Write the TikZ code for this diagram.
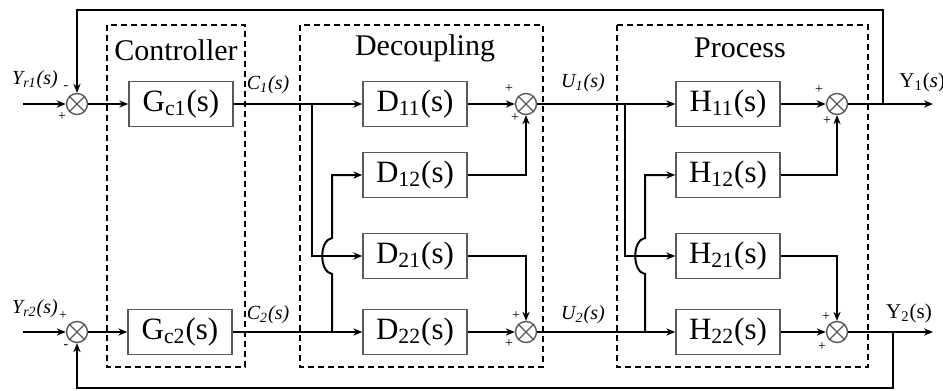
\documentclass[tikz,border=0pt]{standalone}
\usepackage{fontspec}
\setmainfont{Liberation Serif}
\usetikzlibrary{arrows.meta}

\tikzset{
    block/.style={draw=black!65, line width=0.7pt, minimum width=52pt,
        minimum height=22.5pt, inner sep=0pt, font=\fontsize{15.5}{16}\selectfont},
    sumnode/.style={draw=black!65, line width=0.7pt, circle, minimum size=10.5pt, inner sep=0pt},
    sig/.style={line width=1pt, -{Stealth[length=4.5pt,width=3.6pt]}},
    grp/.style={line width=1pt, dash pattern=on 3pt off 2pt},
    title/.style={font=\fontsize{15}{16}\selectfont, inner sep=0pt},
    lbl/.style={font=\fontsize{10}{11}\selectfont\itshape, inner sep=0pt},
    sgn/.style={font=\fontsize{7}{7}\selectfont, inner sep=0pt}
}

\begin{document}
\begin{tikzpicture}[x=0.5pt, y=-0.5pt]
    \useasboundingbox (0,0) rectangle (943,391);

    % dashed groups
    \draw[grp] (107,25) rectangle (245,367);
    \draw[grp] (300,25) rectangle (543,367);
    \draw[grp] (617,25) rectangle (868,367);
    \node[title] (tctrl) at (176,50) {Controller};
    \node[title] (tdec) at (425,48) {Decoupling};
    \node[title] (tproc) at (740,48) {Process};

    % blocks
    \node[block] (gc1) at (181,104) {G\textsubscript{c1}(s)};
    \node[block] (gc2) at (180,332) {G\textsubscript{c2}(s)};
    \foreach \i/\j/\y in {1/1/104, 1/2/175, 2/1/256, 2/2/332} {
        \node[block] (d\i\j) at (415,\y) {D\textsubscript{\i\j}(s)};
        \node[block] (h\i\j) at (728,\y) {H\textsubscript{\i\j}(s)};
    }

    % summing points
    \node[sumnode] (sr1) at (77,104) {};
    \node[sumnode] (sr2) at (77,332) {};
    \node[sumnode] (sd1) at (526,104) {};
    \node[sumnode] (sd2) at (526,332) {};
    \node[sumnode] (sh1) at (837,104) {};
    \node[sumnode] (sh2) at (837,332) {};
    \foreach \s in {sr1,sr2,sd1,sd2,sh1,sh2}
        \draw[line width=0.6pt, black!65] (\s.45) -- (\s.225) (\s.135) -- (\s.315);

    % ends and branch points
    \coordinate (in1) at (23,104);
    \coordinate (in2) at (23,332);
    \coordinate (out1) at (933,104);
    \coordinate (out2) at (933,332);
    \coordinate (bc1) at (312,104);
    \coordinate (bc2) at (332,332);
    \coordinate (bu1) at (625,104);
    \coordinate (bu2) at (645,332);
    \coordinate (fb1) at (883,104);
    \coordinate (fb2) at (893,332);
    \coordinate (top) at (0,10);
    \coordinate (bot) at (0,388);

    % signals
    \draw[sig] (in1) -- (sr1);
    \draw[sig] (in2) -- (sr2);
    \draw[sig] (sr1) -- (gc1);
    \draw[sig] (sr2) -- (gc2);
    \draw[sig] (gc1) -- (d11);
    \draw[sig] (gc2) -- (d22);
    \draw[sig] (bc1) |- (d21);
    \draw[sig] (bc2) -- (332,274) .. controls (319,272) and (319,240) .. (332,238) |- (d12);
    \draw[sig] (d11) -- (sd1);
    \draw[sig] (d12) -| (sd1);
    \draw[sig] (d21) -| (sd2);
    \draw[sig] (d22) -- (sd2);
    \draw[sig] (sd1) -- (h11);
    \draw[sig] (sd2) -- (h22);
    \draw[sig] (bu1) |- (h21);
    \draw[sig] (bu2) -- (645,274) .. controls (632,272) and (632,240) .. (645,238) |- (h12);
    \draw[sig] (h11) -- (sh1);
    \draw[sig] (h12) -| (sh1);
    \draw[sig] (h21) -| (sh2);
    \draw[sig] (h22) -- (sh2);
    \draw[sig] (sh1) -- (out1);
    \draw[sig] (sh2) -- (out2);
    \draw[sig] (fb1) -- (fb1 |- top) -| (sr1);
    \draw[sig] (fb2) -- (fb2 |- bot) -| (sr2);

    % signal names
    \node[lbl] (lyr1) at (35,80) {Y\textsubscript{r1}(s)};
    \node[lbl] (lyr2) at (35,309) {Y\textsubscript{r2}(s)};
    \node[lbl] (lc1) at (268,85) {C\textsubscript{1}(s)};
    \node[lbl] (lc2) at (268,315) {C\textsubscript{2}(s)};
    \node[lbl] (lu1) at (583,83) {U\textsubscript{1}(s)};
    \node[lbl] (lu2) at (583,315) {U\textsubscript{2}(s)};
    \node[lbl, font=\fontsize{10.5}{11}\selectfont, anchor=west] (ly1) at (899,82) {Y\textsubscript{1}(\textit{s})};
    \node[lbl, font=\fontsize{10.5}{11}\selectfont] (ly2) at (909,313) {Y\textsubscript{2}(s)};

    % signs
    \node[sgn] (m1) at (66,88) {-};
    \node[sgn] (p1) at (62,117) {+};
    \node[sgn] (p2) at (63,316) {+};
    \node[sgn] (m2) at (66,347) {-};
    \node[sgn] (p3) at (509,89) {+};
    \node[sgn] (p4) at (515,118) {+};
    \node[sgn] (p5) at (516,316) {+};
    \node[sgn] (p6) at (509,344) {+};
    \node[sgn] (p7) at (819,90) {+};
    \node[sgn] (p8) at (827,121) {+};
    \node[sgn] (p9) at (826,317) {+};
    \node[sgn] (p10) at (822,347) {+};
\end{tikzpicture}
\end{document}
